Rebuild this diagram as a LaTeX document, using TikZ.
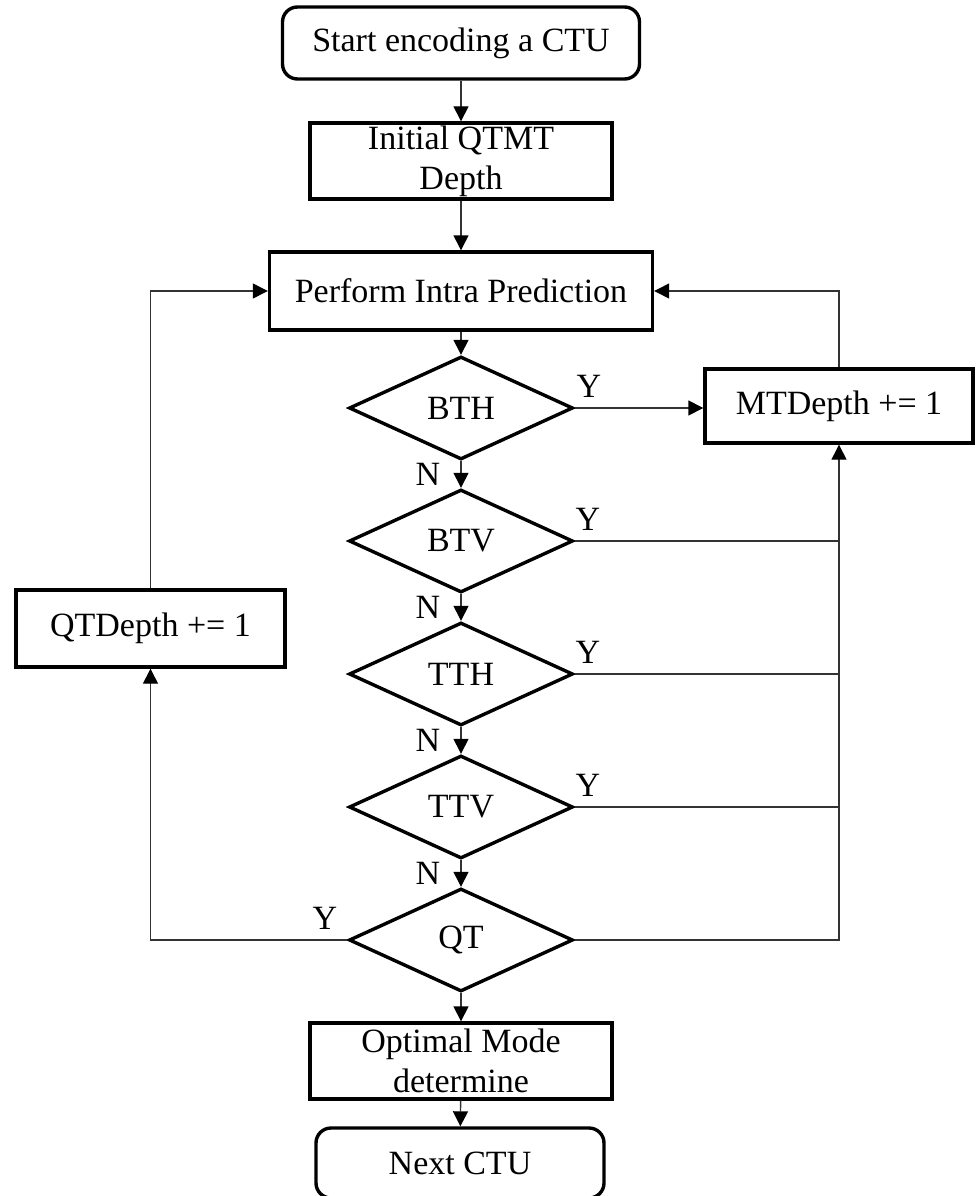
\documentclass[tikz,border=0pt]{standalone}
\usepackage{fontspec}
\setmainfont{Liberation Serif}
\usetikzlibrary{shapes.geometric,arrows.meta}
\begin{document}
\begin{tikzpicture}[x=1pt,y=-1pt,
  txt/.style={font=\fontsize{34}{40}\selectfont, inner sep=0pt},
  proc/.style={txt, draw=black, line width=3.4pt, rectangle, align=center},
  term/.style={proc, rounded corners=15pt},
  dec/.style={txt, draw=black, line width=3.4pt, diamond, minimum width=224pt, minimum height=103pt},
  conn/.style={draw=black!80, line width=1.4pt},
  arr/.style={conn, -{Triangle[length=15pt,width=15pt,color=black]}},
  lab/.style={txt}]
\useasboundingbox (0,0) rectangle (977,1196);

\node[term, minimum width=357pt, minimum height=72pt] (start) at (461,43) {Start encoding a CTU};
\node[proc, minimum width=302pt, minimum height=76pt] (init) at (461,161) {Initial QTMT\\Depth};
\node[proc, minimum width=383pt, minimum height=78pt] (perf) at (461,291) {Perform Intra Prediction};

\node[dec] (bth) at (461,408) {BTH};
\node[dec] (btv) at (461,541) {BTV};
\node[dec] (tth) at (461,674) {TTH};
\node[dec] (ttv) at (461,807) {TTV};
\node[dec] (qt)  at (461,940) {QT};

\node[proc, minimum width=268pt, minimum height=74pt] (mt) at (839,406) {MTDepth += 1};
\node[proc, minimum width=269pt, minimum height=77pt] (qtd) at (150.5,628.5) {QTDepth += 1};

\node[proc, minimum width=302pt, minimum height=76pt] (opt) at (461,1061) {Optimal Mode\\determine};
\node[term, minimum width=288pt, minimum height=70pt] (next) at (460,1163) {Next CTU};

% main column
\draw[arr] (start) -- (init);
\draw[arr] (init) -- (perf);
\draw[arr] (perf) -- (bth);
\draw[arr] (bth) -- (btv);
\draw[arr] (btv) -- (tth);
\draw[arr] (tth) -- (ttv);
\draw[arr] (ttv) -- (qt);
\draw[arr] (qt) -- (opt);
\draw[arr] (opt) -- (next);

% yes branches to MTDepth
\draw[arr] (bth.east) -- (bth.east -| mt.west);
\draw[conn] (btv.east) -- (btv.east -| mt.south);
\draw[conn] (tth.east) -- (tth.east -| mt.south);
\draw[conn] (ttv.east) -- (ttv.east -| mt.south);
\draw[arr] (qt.east) -- (qt.east -| mt.south) -- (mt.south);
\draw[arr] (mt.north) |- (perf.east);

% QT yes branch
\draw[arr] (qt.west) -| (qtd.south);
\draw[arr] (qtd.north) |- (perf.west);

% labels
\node[lab] (ly1) at (589,386) {Y};
\node[lab] (ly2) at (588,519) {Y};
\node[lab] (ly3) at (588,652) {Y};
\node[lab] (ly4) at (588,785) {Y};
\node[lab] (ly5) at (325,918) {Y};
\node[lab] (ln1) at (428,474) {N};
\node[lab] (ln2) at (428,607) {N};
\node[lab] (ln3) at (428,740) {N};
\node[lab] (ln4) at (428,873) {N};
\end{tikzpicture}
\end{document}
